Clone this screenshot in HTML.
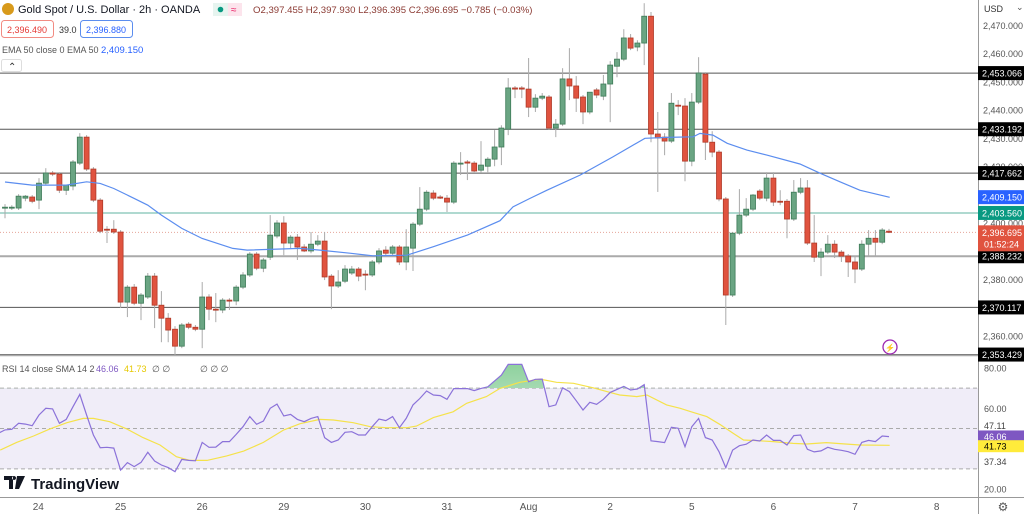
<!DOCTYPE html>
<html><head><meta charset="utf-8"><style>
html,body{margin:0;padding:0;background:#fff;}
body{width:1024px;height:514px;overflow:hidden;font-family:"Liberation Sans",sans-serif;}
svg text{font-family:"Liberation Sans",sans-serif;}
</style></head><body>
<svg id="chart" width="1024" height="514" viewBox="0 0 1024 514" xmlns="http://www.w3.org/2000/svg">
<rect x="0" y="0" width="1024" height="514" fill="#fff"/>
<rect x="0" y="388" width="978" height="81" fill="#f0edf8"/>
<g id="grid"></g>
<g id="candles"></g>
<g id="overlay"></g>
<g id="rsi"></g>
<g id="axes"></g>
</svg>
<script>
// ---- data ----
const ohlc = [
[2405.3,2406.7,2401.7,2405.6],[2405.6,2406.3,2404.6,2405.6],[2405.3,2410.2,2404.6,2409.5],[2408.8,2409.9,2407.7,2409.5],
[2409.2,2409.9,2407.0,2407.7],[2408.1,2415.9,2404.9,2414.1],[2414.1,2419.4,2413.4,2417.7],[2417.7,2418.4,2416.6,2417.3],
[2417.3,2418.0,2410.6,2411.6],[2411.6,2413.4,2409.9,2413.4],[2413.1,2422.3,2411.6,2421.6],[2421.2,2431.8,2420.5,2430.4],
[2430.4,2431.1,2418.4,2419.1],[2419.1,2419.8,2407.4,2408.1],[2408.1,2408.8,2396.4,2397.1],[2397.8,2398.9,2392.9,2397.5],
[2397.8,2401.0,2396.1,2396.8],[2396.8,2397.5,2369.9,2372.0],[2372.0,2378.0,2366.7,2377.3],[2377.3,2378.4,2370.9,2371.6],
[2371.6,2375.2,2365.6,2374.5],[2373.8,2382.3,2373.1,2381.2],[2381.2,2382.3,2362.8,2370.9],[2370.9,2375.9,2357.8,2366.3],
[2366.3,2368.1,2357.8,2362.1],[2362.4,2363.5,2353.2,2356.4],[2356.4,2364.6,2355.7,2363.9],[2364.2,2364.9,2362.4,2363.1],
[2363.1,2363.9,2361.7,2362.4],[2362.4,2379.1,2355.7,2373.8],[2373.8,2374.8,2365.6,2369.5],[2369.5,2375.2,2364.9,2369.2],
[2369.2,2373.4,2368.1,2372.7],[2372.7,2373.4,2369.2,2372.4],[2372.4,2378.0,2370.9,2377.3],[2377.3,2382.6,2376.6,2381.6],
[2381.6,2389.7,2380.9,2389.0],[2389.0,2389.7,2383.3,2384.0],[2384.0,2387.6,2382.6,2386.9],[2387.9,2402.8,2386.9,2395.7],
[2395.4,2401.0,2394.6,2400.0],[2400.0,2402.4,2388.6,2392.9],[2392.9,2395.7,2391.1,2395.0],[2395.0,2396.1,2386.9,2391.5],
[2391.5,2392.5,2389.7,2390.1],[2390.1,2396.8,2389.3,2392.5],[2392.5,2395.7,2391.8,2393.6],[2393.6,2396.8,2379.8,2380.9],
[2381.2,2381.9,2369.5,2377.7],[2377.7,2383.3,2377.0,2379.1],[2379.4,2385.1,2378.7,2383.7],[2382.3,2384.8,2381.6,2383.7],
[2383.7,2384.4,2379.4,2381.2],[2381.9,2383.3,2376.2,2381.6],[2381.6,2386.9,2380.9,2386.2],[2386.2,2391.1,2385.4,2390.1],
[2390.4,2391.8,2388.6,2389.3],[2389.3,2392.2,2388.6,2391.5],[2391.5,2392.2,2385.1,2386.2],[2386.2,2397.8,2383.3,2391.5],
[2391.1,2400.3,2383.0,2399.6],[2399.6,2412.7,2398.9,2404.9],[2404.9,2411.6,2404.2,2410.9],[2410.6,2411.6,2408.1,2408.8],
[2409.2,2409.9,2408.5,2408.8],[2408.8,2409.9,2403.9,2407.4],[2407.4,2421.9,2406.7,2421.2],[2420.9,2425.1,2417.0,2421.2],
[2421.6,2422.3,2415.2,2421.2],[2421.2,2421.9,2418.0,2418.4],[2418.7,2429.0,2417.7,2420.5],[2420.1,2423.3,2418.0,2422.6],
[2422.6,2432.9,2420.1,2426.9],[2426.9,2434.6,2420.5,2433.6],[2433.2,2451.3,2431.1,2447.8],[2447.8,2448.5,2444.2,2447.4],
[2447.8,2448.5,2444.2,2447.4],[2447.4,2458.4,2437.5,2441.0],[2441.0,2445.6,2439.3,2444.2],[2444.2,2446.0,2443.5,2444.9],
[2444.6,2445.3,2432.9,2433.6],[2433.6,2436.8,2430.4,2435.0],[2435.0,2454.8,2434.3,2451.0],[2451.0,2461.9,2443.5,2448.5],
[2448.5,2452.0,2439.3,2444.2],[2444.6,2445.3,2435.0,2439.3],[2439.3,2446.3,2438.5,2446.3],[2447.1,2447.8,2444.2,2445.3],
[2444.9,2452.4,2443.5,2449.2],[2449.2,2457.3,2435.7,2455.9],[2455.5,2460.5,2451.6,2458.0],[2458.0,2468.6,2457.3,2465.5],
[2465.5,2466.9,2461.2,2461.9],[2462.3,2464.7,2460.8,2463.7],[2463.7,2477.8,2455.9,2473.2],[2473.2,2474.7,2428.6,2431.5],
[2431.5,2439.3,2411.0,2430.1],[2430.4,2431.8,2424.0,2429.0],[2429.0,2446.0,2428.3,2442.4],[2441.7,2443.5,2438.2,2441.4],
[2441.4,2444.2,2414.8,2421.9],[2421.9,2446.0,2420.1,2442.8],[2442.8,2458.7,2442.1,2453.1],[2452.7,2453.4,2422.3,2428.6],
[2428.6,2432.5,2423.3,2425.1],[2425.1,2425.8,2407.7,2408.5],[2408.5,2409.2,2363.9,2374.5],[2374.5,2396.8,2373.8,2396.4],
[2396.4,2412.0,2395.7,2402.8],[2402.8,2408.8,2402.1,2404.9],[2404.9,2410.2,2404.2,2409.9],[2411.3,2412.0,2408.1,2408.8],
[2408.8,2418.0,2407.7,2415.9],[2415.9,2418.0,2406.0,2407.4],[2407.7,2411.6,2406.3,2407.4],[2407.7,2408.5,2394.6,2401.4],
[2401.4,2415.2,2400.7,2410.9],[2410.9,2415.9,2410.2,2412.4],[2412.4,2415.2,2392.2,2392.9],[2392.9,2402.8,2386.2,2387.9],
[2387.9,2391.1,2381.2,2389.7],[2389.7,2395.7,2389.0,2392.5],[2392.5,2393.9,2387.6,2389.7],[2389.7,2390.4,2386.2,2388.3],
[2388.3,2389.0,2380.9,2386.2],[2386.2,2388.3,2378.7,2383.7],[2383.7,2393.9,2383.0,2392.5],[2392.5,2397.5,2388.3,2394.6],
[2394.6,2397.5,2388.0,2393.2],[2393.2,2398.2,2392.5,2397.5],[2397.1,2397.9,2396.4,2396.7]
];
const emaIdx = [0,4,9,12,14,16,19,21,23,26,29,33.5,35.6,43.4,46.3,50.7,54.1,59.1,63,68,72.8,74.7,77.2,79.7,84.6,89.4,94.1,97.4,101.2,102.2,104.1,106.2,109.1,112.1,116.9,119.9,122.8,125.7,130.1];
const emaVal = [2414.5,2413.4,2413.4,2414.6,2414.0,2412.2,2408.7,2406.3,2402.8,2398.1,2394.5,2391.0,2390.4,2391.0,2390.4,2389.3,2388.4,2388.6,2391.6,2395.7,2400.8,2405.7,2408.7,2411.6,2417.0,2423.4,2430.0,2430.3,2430.5,2431.7,2431.1,2428.2,2425.8,2424.0,2420.9,2417.6,2414.6,2411.6,2409.1];
const rsiVal = [47.6,49.3,49.6,52.6,52.2,51.4,56.7,60.0,59.7,52.6,54.5,60.8,66.9,56.7,46.8,40.5,40.7,40.3,29.4,33.1,31.1,33.2,38.2,33.9,31.9,30.6,28.6,34.7,34.2,34.0,43.1,40.7,40.8,43.5,43.5,47.1,50.9,55.9,52.1,53.7,60.0,62.1,56.2,57.0,54.5,53.4,55.0,55.9,45.5,43.1,44.3,48.1,48.4,46.8,46.8,50.9,54.7,53.9,55.9,50.4,55.0,61.7,64.9,68.6,66.6,66.3,64.5,69.8,69.8,69.8,68.8,69.9,70.7,73.6,76.5,81.8,81.8,81.8,73.2,74.4,74.5,60.8,61.7,70.2,68.3,63.8,59.2,63.0,62.0,64.5,67.9,69.4,70.9,69.1,69.6,71.7,43.9,43.5,43.0,50.6,50.1,41.0,50.9,55.0,45.5,44.3,38.5,30.6,39.3,41.5,42.2,44.3,43.8,46.8,44.1,44.1,41.8,46.5,46.8,39.7,38.4,38.9,40.7,39.7,39.2,38.5,37.2,43.1,44.1,43.5,46.3,46.0];
const smaIdx = [-0.7,1.7,4.2,6.6,9.1,11.5,13,15.4,17.9,20.3,22.8,25.2,27.2,29.7,32.6,35.1,38,41,43.4,46.3,48.3,51.2,53.7,56.1,59.1,60.5,63,65.9,67.9,70.8,72.8,75.7,78.7,81.1,83.6,86.5,88.5,90.4,92.9,94.4,97.3,99.3,101.2,103.2,105.1,107.1,108.6,111,113,115.9,117.9,120.8,122.8,125.7,130.1];
const smaVal = [39.3,43.1,46.3,49.8,52.9,55.0,55.0,53.4,49.8,45.5,41.8,36.0,34.2,34.2,36.4,38.8,43.1,49.3,52.4,54.5,54.2,52.9,50.9,50.4,50.4,51.2,55.4,58.3,62.5,65.8,69.9,72.9,74.5,72.9,72.4,70.2,68.3,66.6,65.8,66.6,61.7,60.0,58.0,55.9,52.1,47.6,44.3,43.9,43.5,42.6,42.3,43.0,42.5,41.8,41.7];
const levels = [2453.066,2433.192,2417.662,2370.117,2353.429];
const supportLevel = 2388.232;
const priceTicks = [2470,2460,2450,2440,2430,2420,2400,2380,2360];
const rsiTicks = [80,60,20];
const rsiGuides = [70,50,30];
const dayLabels = ["24","25","26","29","30","31","Aug","2","5","6","7","8"];
const dayPos = [4.9,17,29,41,53,65,77,89,101,113,125,137];
const lastPrice = 2396.695, emaLast = 2409.150, bidAsk = 2403.560;

// ---- scales ----
const X = i => 5 + 6.8*i;
const Y = p => 110 + (2440 - p)*2.825;
const RY = v => 368 + (80 - v)*2.017;
const NS = "http://www.w3.org/2000/svg";
function mk(tag, attrs, parent){const e=document.createElementNS(NS,tag);for(const k in attrs)e.setAttribute(k,attrs[k]);parent.appendChild(e);return e;}
const fmt = v => v.toLocaleString('en-US',{minimumFractionDigits:3,maximumFractionDigits:3});

const grid = document.getElementById('grid');
levels.forEach(l=>{
  const e = mk('line',{x1:0,x2:978,y1:Y(l),y2:Y(l),stroke:'#555',"stroke-width":1},grid);
  
  
});
let sl = mk('line',{x1:0,x2:978,y1:Y(supportLevel),y2:Y(supportLevel),stroke:'#aaa',"stroke-width":2},grid);


let tl = mk('line',{x1:0,x2:978,y1:Y(bidAsk),y2:Y(bidAsk),stroke:'#5fb3a0',"stroke-width":1},grid);


let pl = mk('line',{x1:0,x2:978,y1:Y(lastPrice),y2:Y(lastPrice),stroke:'#e5a59a',"stroke-width":1,"stroke-dasharray":"1,2"},grid);



const cg = document.getElementById('candles');
ohlc.forEach((c,i)=>{
  const [o,h,l,cl]=c, up = cl>=o, x=X(i);
  const w = mk('line',{x1:x,x2:x,y1:Y(h),y2:Y(l),stroke:'#aaa',"stroke-width":1},cg);
  
  
  const top=Y(Math.max(o,cl)), bot=Y(Math.min(o,cl));
  const b = mk('rect',{x:x-2.5,y:top,width:5,height:Math.max(1,bot-top),fill:up?'#6aa583':'#e0533f',stroke:up?'#3d7a57':'#b03a28',"stroke-width":0.8},cg);
  
  
});

const ov = document.getElementById('overlay');
let ed = emaIdx.map((t,k)=>(k?'L':'M')+X(t).toFixed(1)+','+Y(emaVal[k]).toFixed(1)).join('');
let ema = mk('path',{d:ed,fill:'none',stroke:'#5b8def',"stroke-width":1.2},ov);



// RSI
const rg = document.getElementById('rsi');
const defs = mk('defs',{},rg);
const cp = mk('clipPath',{id:'above70'},defs); mk('rect',{x:0,y:340,width:978,height:RY(70)-340},cp);
const gr = mk('linearGradient',{id:'gfill',x1:0,y1:0,x2:0,y2:1},defs);
mk('stop',{offset:0,"stop-color":'#8fd19e'},gr); mk('stop',{offset:1,"stop-color":'#eef9f0'},gr);
rsiGuides.forEach(g=>{
  const e = mk('line',{x1:0,x2:978,y1:RY(g),y2:RY(g),stroke:'#aaa',"stroke-dasharray":"4,3","stroke-width":1},rg);
  
  
});
const rpts = rsiVal.map((v,k)=>[X(k-1),RY(v)]);
let fillD = 'M'+rpts[0][0]+','+RY(70)+rpts.map(p=>'L'+p[0].toFixed(1)+','+p[1].toFixed(1)).join('')+'L'+rpts[rpts.length-1][0]+','+RY(70)+'Z';
let gf = mk('path',{d:fillD,fill:'url(#gfill)',"clip-path":'url(#above70)'},rg);


let sd = smaIdx.map((t,k)=>(k?'L':'M')+X(t).toFixed(1)+','+RY(smaVal[k]).toFixed(1)).join('');
let sma = mk('path',{d:sd,fill:'none',stroke:'#f5e24a',"stroke-width":1.2},rg);


let rd = rpts.map((p,k)=>(k?'L':'M')+p[0].toFixed(1)+','+p[1].toFixed(1)).join('');
let rl = mk('path',{d:rd,fill:'none',stroke:'#8b72d9',"stroke-width":1.2},rg);



// axes
const ax = document.getElementById('axes');
function txt(s,x,y,attrs,name,inter){const e=mk('text',Object.assign({x:x,y:y,"font-size":9,fill:'#444'},attrs||{}),ax);e.textContent=s;return e;}
function box(x,y,w,h,fill,name){const e=mk('rect',{x:x,y:y,width:w,height:h,fill:fill},ax);return e;}
box(979,0,45,514,'#fff','price-axis-background');
let d1 = mk('line',{x1:978.5,x2:978.5,y1:0,y2:514,stroke:'#999',"stroke-width":1},ax);


let d2 = mk('line',{x1:0,x2:978,y1:355.5,y2:355.5,stroke:'#aaa',"stroke-width":1.5},ax);


let d3 = mk('line',{x1:0,x2:1024,y1:497.5,y2:497.5,stroke:'#999',"stroke-width":1},ax);


priceTicks.forEach(t=>txt(fmt(t),983,Y(t)+3.5,{fill:'#555'},'price-tick-label'));
rsiTicks.forEach(t=>txt(t.toFixed(2),984,RY(t)+3.5,{fill:'#555'},'rsi-tick-label'));
txt('47.11',984,429,{},'rsi-tick-label');
txt('37.34',984,465,{},'rsi-tick-label');
levels.concat([supportLevel]).forEach(l=>{box(978,Y(l)-7,46,14,'#000','level-price-label');txt(fmt(l),982,Y(l)+3.5,{fill:'#fff'},'level-price-text');});
box(978,Y(emaLast)-7,46,14,'#2962ff','ema-price-label');txt(fmt(emaLast),982,Y(emaLast)+3.5,{fill:'#fff'},'ema-price-text');
box(978,Y(bidAsk)-7,46,14,'#089981','ask-price-label');txt(fmt(bidAsk),982,Y(bidAsk)+3.5,{fill:'#fff'},'ask-price-text');
box(978,Y(lastPrice)-7,46,26,'#e0533f','last-price-label');txt(fmt(lastPrice),982,Y(lastPrice)+3.5,{fill:'#fff'},'last-price-text');
txt('01:52:24',984,Y(lastPrice)+15,{fill:'#fff'},'countdown-text');
box(978,RY(46.06)-6,46,12,'#7e57c2','rsi-value-label');txt('46.06',984,RY(46.06)+3.5,{fill:'#fff'},'rsi-value-text');
box(978,RY(41.73)-5,46,12,'#ffeb3b','rsi-sma-label');txt('41.73',984,RY(41.73)+4.5,{fill:'#000'},'rsi-sma-text');
dayLabels.forEach((d,k)=>txt(d,X(dayPos[k]),510,{"text-anchor":'middle',fill:'#555',"font-size":10},'date-label'));
txt('USD',984,12,{"font-size":9,fill:'#333'},'currency-selector',true);
txt('⌄',1016,10,{"font-size":9,fill:'#555'},'currency-dropdown-icon',true);
txt('⚙',1003,511,{"font-size":12,fill:'#555',"text-anchor":'middle'},'settings-icon',true);
let lc = mk('circle',{cx:890,cy:347,r:7,fill:'#fff',stroke:'#9c27b0',"stroke-width":1.3},ax);


txt('⚡',890,350.5,{"font-size":8,fill:'#9c27b0',"text-anchor":'middle'},'lightning-glyph');

// header
let logo = mk('circle',{cx:8,cy:9,r:6,fill:'#d89a1b'},ax);


txt('Gold Spot / U.S. Dollar · 2h · OANDA',18,13,{"font-size":11,fill:'#131722'},'symbol-title',true);
box(213,3,15,13,'#e6f4ef','market-open-badge');
let md = mk('circle',{cx:220.5,cy:9.5,r:2.8,fill:'#089981'},ax);


box(228,3,14,13,'#fce4ec','delayed-badge');
txt('≈',231,13,{"font-size":10,fill:'#e91e63'},'delayed-icon');
txt('O2,397.455 H2,397.930 L2,396.395 C2,396.695 −0.785 (−0.03%)',253,13,{"font-size":9.6,fill:'#8b3a33'},'ohlc-values');
let sb=mk('rect',{x:1.5,y:20.5,width:52,height:17,rx:3,fill:'#fff',stroke:'#f28b82'},ax);


txt('2,396.490',7,33,{fill:'#e53935'},'sell-price');
txt('39.0',59,33,{fill:'#333'},'spread-value');
let bb=mk('rect',{x:80.5,y:20.5,width:52,height:17,rx:3,fill:'#fff',stroke:'#5b8def'},ax);


txt('2,396.880',86,33,{fill:'#2962ff'},'buy-price');
txt('EMA 50 close 0 EMA 50',2,53,{fill:'#555'},'ema-legend-label');
txt('2,409.150',101,53,{fill:'#2962ff',"font-size":9.5},'ema-legend-value');
let cb=mk('rect',{x:1.5,y:59.5,width:20,height:12,rx:2,fill:'#fff',stroke:'#ddd'},ax);


txt('⌃',8,70,{"font-size":10,fill:'#333'},'collapse-icon');
txt('RSI 14 close SMA 14 2',2,372,{fill:'#555'},'rsi-legend-label');
txt('46.06',96,372,{fill:'#7e57c2'},'rsi-legend-value');
txt('41.73',124,372,{fill:'#e6c800'},'rsi-sma-legend-value');
txt('∅  ∅',152,372,{fill:'#555'},'rsi-empty-values');
txt('∅  ∅  ∅',200,372,{fill:'#555'},'rsi-empty-values-2');
// TradingView logo
let tv1 = mk('path',{d:'M4,476h9v13h-4v-9h-5z M14,476a2,2 0 1,0 0.1,0 M17,476h8l-6,13h-4z',fill:'#131722'},ax);


txt('TradingView',31,489,{"font-size":15,"font-weight":'bold',fill:'#131722'},'tradingview-logo-text');
</script>
</body></html>
